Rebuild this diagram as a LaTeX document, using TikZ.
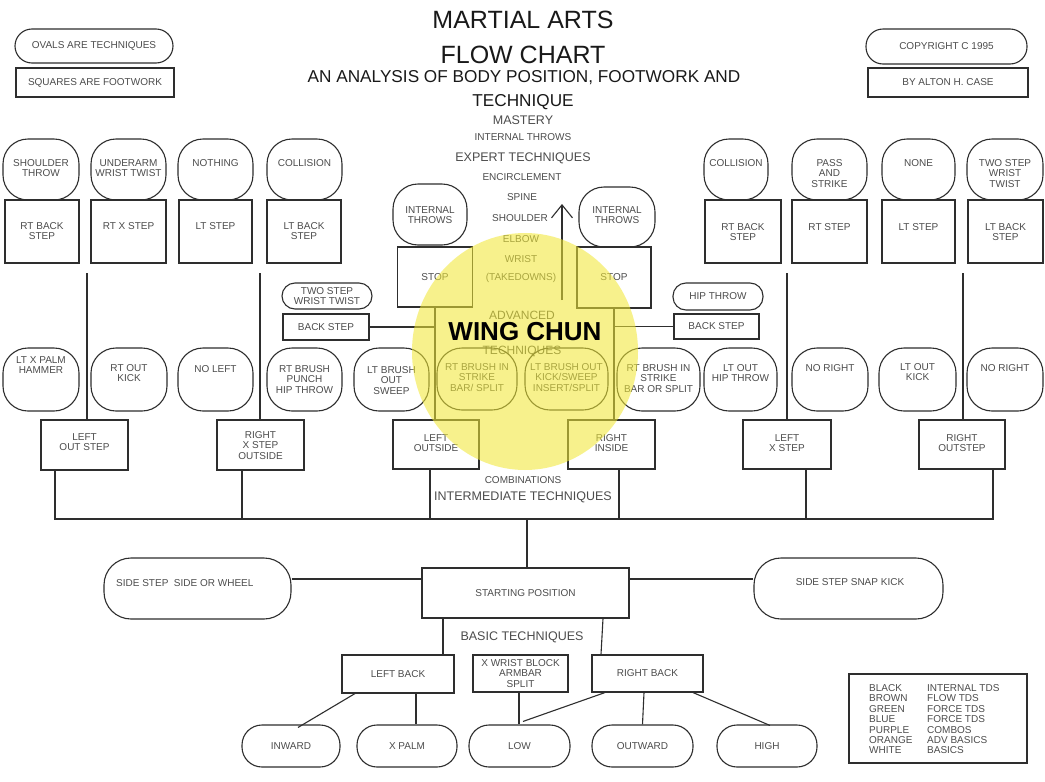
\documentclass[tikz,border=0pt]{standalone}
\usepackage{fontspec}
\setmainfont{Liberation Sans}
\usetikzlibrary{arrows.meta,shapes.geometric}

\definecolor{linec}{gray}{0.18}
\definecolor{ink}{gray}{0.30}
\definecolor{head}{gray}{0.10}
\definecolor{wcyellow}{RGB}{241,232,54}

% shape node with its text hung from the top: style, name, x, y, width, height, first-line y, text
\newcommand\tnode[8]{%
  \node[#1, minimum width=#5, minimum height=#6] (#2) at (#3,#4) {};
  \node[tx, anchor=north] (#2-t) at (#3,{#7-3.7}) {#8};}

\tikzset{
  every node/.style={inner sep=0pt},
  wire/.style={draw=linec, line width=1.1pt},
  sq/.style={draw=linec, line width=1.1pt},
  ov/.style={draw=linec, line width=1.1pt, rounded corners=#1},
  ov/.default=25pt,
  tx/.style={font=\fontsize{10}{10.4}\selectfont, text=ink, align=center},
  labmd/.style={font=\fontsize{12.5}{12.5}\selectfont, text=ink},
  labsm/.style={font=\fontsize{10}{10}\selectfont, text=ink},
  ttl/.style={font=\fontsize{25}{25}\selectfont, text=head},
  subttl/.style={font=\fontsize{17.2}{17.2}\selectfont, text=head},
}

\begin{document}
\begin{tikzpicture}[x=1pt,y=-1pt]
\fill[white] (0,0) rectangle (1045,782);
\path[use as bounding box] (0,0) rectangle (1045,782);

% ---- titles ----
\node[ttl] (title1) at (523,20) {MARTIAL ARTS};
\node[ttl] (title2) at (523,55) {FLOW CHART};
\node[subttl] (title3) at (524,78) {AN ANALYSIS OF BODY POSITION, FOOTWORK AND};
\node[subttl] (title4) at (523,102) {TECHNIQUE};

% ---- key and credits ----
\node[ov=17pt, tx, minimum width=158, minimum height=34] (keyOval) at (94,46) {OVALS ARE TECHNIQUES};
\node[sq, tx, minimum width=158, minimum height=29] (keySq) at (95,82.5) {SQUARES ARE FOOTWORK};
\node[ov=17pt, tx, minimum width=161, minimum height=35] (copy) at (946.5,46.5) {COPYRIGHT C 1995};
\node[sq, tx, minimum width=160, minimum height=29] (author) at (948,82.5) {BY ALTON H. CASE};

% ---- central ladder ----
\node[labmd] (mastery) at (523,120) {MASTERY};
\node[labsm] (intthrows) at (523,137) {INTERNAL THROWS};
\node[labmd] (expert) at (523,158) {EXPERT TECHNIQUES};
\node[labsm] (encircle) at (522,177) {ENCIRCLEMENT};
\node[labsm] (spine) at (522,197) {SPINE};
\node[labsm] (shoulder) at (520,218) {SHOULDER};
\node[labsm] (elbow) at (521,239) {ELBOW};
\node[labsm] (wrist) at (521,259) {WRIST};
\node[labsm] (takedowns) at (521,278) {(TAKEDOWNS)};
\node[font=\fontsize{12}{12}\selectfont, text=ink] (advanced) at (522,315) {ADVANCED};
\node[font=\fontsize{12}{12}\selectfont, text=ink] (advtech) at (522,351) {TECHNIQUES};
\coordinate (arrowFoot) at (562,300);
\coordinate (arrowTip) at (562,204);
\draw[wire, -{Straight Barb[length=13pt,width=21pt]}] (arrowFoot) -- (arrowTip);

% ---- top row: techniques over footwork ----
\tnode{ov}{a1}{41}{169.5}{76}{61}{163}{SHOULDER\\THROW}
\tnode{ov}{a2}{128.5}{169.5}{75}{61}{163}{UNDERARM\\WRIST TWIST}
\tnode{ov}{a3}{215.5}{169.5}{75}{61}{163}{NOTHING}
\tnode{ov}{a4}{304.5}{169.5}{75}{61}{163}{COLLISION}
\tnode{ov}{a5}{736}{169.5}{64}{61}{163}{COLLISION}
\tnode{ov}{a6}{829.5}{169.5}{75}{61}{163}{PASS\\AND\\STRIKE}
\tnode{ov}{a7}{918.5}{169.5}{73}{61}{163}{NONE}
\tnode{ov}{a8}{1005}{169.5}{76}{61}{163}{TWO STEP\\WRIST\\TWIST}

\tnode{sq}{b1}{42}{231.5}{74}{63}{226}{RT BACK\\STEP}
\tnode{sq}{b2}{128.5}{231.5}{75}{63}{226}{RT X STEP}
\tnode{sq}{b3}{215.5}{231.5}{73}{63}{226}{LT STEP}
\tnode{sq}{b4}{304}{231.5}{74}{63}{226}{LT BACK\\STEP}
\tnode{sq}{b5}{743}{231.5}{76}{63}{227}{RT BACK\\STEP}
\tnode{sq}{b6}{829.5}{231.5}{75}{63}{227}{RT STEP}
\tnode{sq}{b7}{918.5}{231.5}{73}{63}{227}{LT STEP}
\tnode{sq}{b8}{1005.5}{231.5}{75}{63}{227}{LT BACK\\STEP}

% ---- centre: stops ----
\tnode{ov}{it1}{430}{214.5}{74}{61}{210}{INTERNAL\\THROWS}
\tnode{ov}{it2}{617}{217}{76}{60}{210}{INTERNAL\\THROWS}
\node[sq, tx, minimum width=75, minimum height=60] (st1) at (435,277) {STOP};
\node[sq, tx, minimum width=74, minimum height=61] (st2) at (614,277.5) {STOP};

\node[ov=13pt, tx, minimum width=90, minimum height=26] (twostep) at (327,296) {TWO STEP\\WRIST TWIST};
\node[sq, tx, minimum width=86, minimum height=26] (bsL) at (326,327) {BACK STEP};
\node[ov=13pt, tx, minimum width=90, minimum height=27] (hip) at (718,296.5) {HIP THROW};
\node[sq, tx, minimum width=85, minimum height=25] (bsR) at (716.5,326.5) {BACK STEP};

% ---- second row of techniques ----
\tnode{ov}{c1}{41}{379.5}{76}{63}{360}{LT X PALM\\HAMMER}
\tnode{ov}{c2}{129}{379.5}{76}{63}{368}{RT OUT\\KICK}
\tnode{ov}{c3}{215.5}{379.5}{75}{63}{369}{NO LEFT}
\tnode{ov}{c4}{304.5}{379.5}{75}{63}{369}{RT BRUSH\\PUNCH\\HIP THROW}
\tnode{ov}{c5}{391.5}{379.5}{75}{63}{370}{LT BRUSH\\OUT\\SWEEP}
\tnode{ov}{c6}{477}{379}{80}{62}{367}{RT BRUSH IN\\STRIKE\\BAR/ SPLIT}
\tnode{ov}{c7}{566.5}{379}{83}{62}{367}{LT BRUSH OUT\\KICK/SWEEP\\INSERT/SPLIT}
\tnode{ov}{c8}{658.5}{379.5}{83}{63}{368}{RT BRUSH IN\\STRIKE\\BAR OR SPLIT}
\tnode{ov}{c9}{740.5}{379.5}{73}{63}{368}{LT OUT\\HIP THROW}
\tnode{ov}{c10}{830}{379.5}{76}{63}{368}{NO RIGHT}
\tnode{ov}{c11}{917.5}{379.5}{77}{63}{367}{LT OUT\\KICK}
\tnode{ov}{c12}{1005}{379.5}{76}{63}{368}{NO RIGHT}

% ---- footwork row ----
\tnode{sq}{d1}{84.5}{445}{87}{50}{437}{LEFT\\OUT STEP}
\tnode{sq}{d2}{260.5}{445}{87}{50}{435}{RIGHT\\X STEP\\OUTSIDE}
\tnode{sq}{d3}{436}{444.5}{86}{49}{438}{LEFT\\OUTSIDE}
\tnode{sq}{d4}{611.5}{444.5}{87}{49}{438}{RIGHT\\INSIDE}
\tnode{sq}{d5}{787}{444.5}{88}{49}{438}{LEFT\\X STEP}
\tnode{sq}{d6}{962}{444.5}{86}{49}{438}{RIGHT\\OUTSTEP}

% long drops from the upper level
\coordinate (dropL1) at (87,273);
\coordinate (dropL2) at (260,273);
\coordinate (dropR1) at (787,273);
\coordinate (dropR2) at (963,273);
\draw[wire] (dropL1) -- (dropL1 |- d1.north);
\draw[wire] (dropL2) -- (dropL2 |- d2.north);
\draw[wire] (dropR1) -- (dropR1 |- d5.north);
\draw[wire] (dropR2) -- (dropR2 |- d6.north);
\draw[wire] (st1.south) -- (st1.south |- d3.north);
\draw[wire] (st2.south) -- (st2.south |- d4.north);
\draw[wire] (bsL.east) -- (bsL.east -| st1.south);
\draw[wire] (bsR.west) -- (bsR.west -| st2.south);

% ---- intermediate bus ----
\node[labsm] (combos) at (523,480) {COMBINATIONS};
\node[labmd] (intermediate) at (523,497) {INTERMEDIATE TECHNIQUES};
\coordinate (bus) at (527,519);
\draw[wire] ([xshift=-29.5pt]d1.south) |- ([xshift=31pt]d6.south |- bus) -- ([xshift=31pt]d6.south);
\draw[wire] ([xshift=-18.5pt]d2.south) -- ([xshift=-18.5pt]d2.south |- bus);
\draw[wire] ([xshift=-6pt]d3.south) -- ([xshift=-6pt]d3.south |- bus);
\draw[wire] ([xshift=7.5pt]d4.south) -- ([xshift=7.5pt]d4.south |- bus);
\draw[wire] ([xshift=19pt]d5.south) -- ([xshift=19pt]d5.south |- bus);

% ---- starting position ----
\node[sq, tx, minimum width=207, minimum height=50] (start) at (525.5,593) {STARTING POSITION};
\draw[wire] (bus) -- (bus |- start.north);
\node[ov=27pt, minimum width=187, minimum height=61] (sideL) at (197.5,588.5) {};
\node[tx, anchor=north west] (sideL-t) at (116,579.3) {SIDE STEP\ \ SIDE OR WHEEL};
\node[ov=27pt, minimum width=189, minimum height=61] (sideR) at (848.5,588.5) {};
\node[tx, anchor=north] (sideR-t) at (850,578.3) {SIDE STEP SNAP KICK};
\draw[wire] (sideL.east |- 0,579) -- (start.west |- 0,579);
\draw[wire] (start.east |- 0,579) -- (sideR.west |- 0,579);

\node[labmd] (basic) at (522,637) {BASIC TECHNIQUES};

% ---- basics ----
\node[sq, tx, minimum width=112, minimum height=38] (lb) at (398,674) {LEFT BACK};
\node[sq, tx, minimum width=95, minimum height=37] (xw) at (520.5,673.5) {X WRIST BLOCK\\ARMBAR\\SPLIT};
\node[sq, tx, minimum width=111, minimum height=37] (rb) at (647.5,673.5) {RIGHT BACK};
\draw[wire] ([xshift=-82.5pt]start.south) -- ([xshift=45pt]lb.north);
\draw[wire] ([xshift=77.5pt]start.south) -- ([xshift=-46.5pt]rb.north);

\node[ov=20pt, tx, minimum width=98, minimum height=42] (inward) at (291,746) {INWARD};
\node[ov=20pt, tx, minimum width=100, minimum height=42] (xpalm) at (407,746) {X PALM};
\node[ov=20pt, tx, minimum width=101, minimum height=42] (low) at (519.5,746) {LOW};
\node[ov=20pt, tx, minimum width=101, minimum height=42] (outward) at (642.5,746) {OUTWARD};
\node[ov=20pt, tx, minimum width=100, minimum height=42] (high) at (767,746) {HIGH};

\draw[wire] ([xshift=-43pt]lb.south) -- ([xshift=7pt,yshift=-3pt]inward.north);
\draw[wire] ([xshift=18pt]lb.south) -- ([xshift=18pt]lb.south |- xpalm.north);
\draw[wire] ([xshift=-1.5pt]xw.south) -- ([xshift=-1.5pt]xw.south |- low.north);
\draw[wire] ([xshift=-42.5pt]rb.south) -- ([xshift=3.5pt,yshift=3pt]low.north);
\draw[wire] ([xshift=-3.5pt]rb.south) -- (outward.north);
\draw[wire] ([xshift=45.5pt]rb.south) -- ([xshift=3pt,yshift=-1pt]high.north);

% ---- colour legend ----
\node[sq, minimum width=178, minimum height=89] (legend) at (938,718.5) {};
\node[tx, align=left, anchor=north west] (legendA) at (869,684.4)
  {BLACK\\BROWN\\GREEN\\BLUE\\PURPLE\\ORANGE\\WHITE};
\node[tx, align=left, anchor=north west] (legendB) at (927,684.4)
  {INTERNAL TDS\\FLOW TDS\\FORCE TDS\\FORCE TDS\\COMBOS\\ADV BASICS\\BASICS};

% ---- Wing Chun highlight ----
\node[ellipse, fill=wcyellow, fill opacity=0.57, minimum width=226, minimum height=237] (halo) at (525,351.5) {};
\node[font=\bfseries\fontsize{26}{26}\selectfont, text=black] (wingchun) at (525,332) {WING CHUN};
\end{tikzpicture}
\end{document}
